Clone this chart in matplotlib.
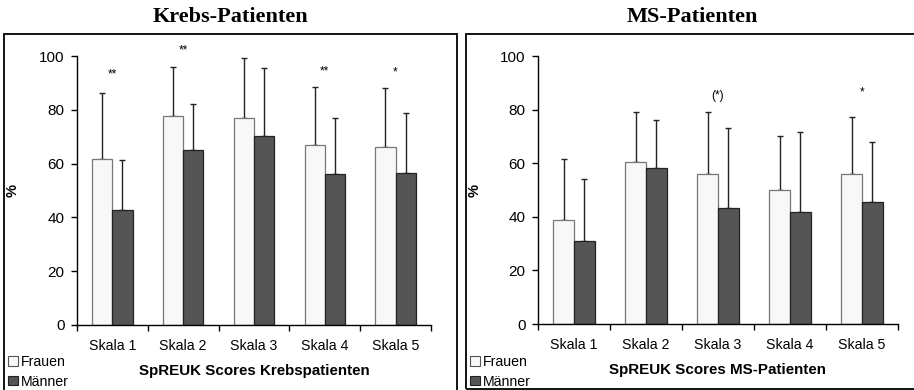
import matplotlib
matplotlib.use("Agg")
import matplotlib.pyplot as plt
import numpy as np
from matplotlib.patches import Rectangle

plt.rcParams["font.family"] = ["Liberation Sans", "DejaVu Sans"]

skalen = ["Skala 1", "Skala 2", "Skala 3", "Skala 4", "Skala 5"]
gruppen = ["Frauen", "Männer"]

# Krebs-Patienten: Mittelwerte und obere Fehlerbalken (Mittelwert + SD)
krebs_frauen = [61.6, 77.6, 77.0, 67.0, 66.2]
krebs_frauen_top = [86.2, 96.0, 99.4, 88.6, 88.0]
krebs_maenner = [42.7, 64.9, 70.3, 56.1, 56.4]
krebs_maenner_top = [61.2, 82.3, 95.7, 77.0, 78.9]
krebs_sig = ["**", "**", "", "**", "*"]
krebs_sig_y = [93.0, 102.0, 0, 94.4, 94.0]

# MS-Patienten
ms_frauen = [38.8, 60.6, 55.8, 49.9, 55.8]
ms_frauen_top = [61.6, 79.0, 79.0, 70.3, 77.3]
ms_maenner = [30.8, 58.2, 43.4, 41.7, 45.4]
ms_maenner_top = [54.1, 76.0, 73.3, 71.8, 68.0]
ms_sig = ["", "", "(*)", "", "*"]
ms_sig_y = [0, 0, 85.0, 0, 86.3]

col_f = "#f8f8f8"
col_m = "#555555"

fig = plt.figure(figsize=(9.14, 3.9), dpi=100)


def draw_panel(ax, fr, fr_top, ma, ma_top, sig, sig_y, xlabel):
    x = np.arange(1, len(skalen) + 1)
    w = 0.285
    fr = np.array(fr)
    ma = np.array(ma)
    ax.bar(x - w / 2, fr, w, color=col_f, edgecolor="#777777", linewidth=0.9, zorder=2)
    ax.bar(x + w / 2, ma, w, color=col_m, edgecolor="#222222", linewidth=0.9, zorder=2)
    ax.errorbar(x - w / 2, fr, yerr=[np.zeros(5), np.array(fr_top) - fr], fmt="none",
                ecolor="#222222", elinewidth=1.0, capsize=2.5, capthick=1.0, zorder=1)
    ax.errorbar(x + w / 2, ma, yerr=[np.zeros(5), np.array(ma_top) - ma], fmt="none",
                ecolor="#222222", elinewidth=1.0, capsize=2.5, capthick=1.0, zorder=1)
    for i, (s, yy) in enumerate(zip(sig, sig_y)):
        if s:
            ax.text(x[i], yy, s, ha="center", va="center", fontsize=8.5)

    ax.set_xlim(0.5, 5.5)
    ax.set_ylim(0, 100)
    ax.set_yticks([0, 20, 40, 60, 80, 100])
    ax.set_xticks(np.arange(0.5, 6, 1))
    ax.set_xticklabels([])
    ax.set_xticks(x, minor=True)
    ax.set_xticklabels(skalen, minor=True)
    ax.tick_params(axis="x", which="major", length=4, width=1)
    ax.tick_params(axis="x", which="minor", length=0, pad=10, labelsize=10.2)
    ax.tick_params(axis="y", length=4, width=1, pad=5, labelsize=11)
    for s in ["top", "right"]:
        ax.spines[s].set_visible(False)
    ax.spines["left"].set_linewidth(1)
    ax.spines["bottom"].set_linewidth(1)
    ax.set_xlabel(xlabel, fontweight="bold", fontsize=10.9, labelpad=8)
    ax.set_ylabel("%", fontweight="bold", fontsize=10.5)


ax1 = fig.add_axes([0.0842, 0.1667, 0.3873, 0.6897])
draw_panel(ax1, krebs_frauen, krebs_frauen_top, krebs_maenner, krebs_maenner_top,
           krebs_sig, krebs_sig_y, "SpREUK Scores Krebspatienten")
ax1.yaxis.set_label_coords(-0.161, 0.5)

ax2 = fig.add_axes([0.5886, 0.1692, 0.3939, 0.6872])
draw_panel(ax2, ms_frauen, ms_frauen_top, ms_maenner, ms_maenner_top,
           ms_sig, ms_sig_y, "SpREUK Scores MS-Patienten")
ax2.yaxis.set_label_coords(-0.156, 0.5)

# Rahmen um beide Diagramme (laufen am Bildrand aus)
fig.patches.append(Rectangle((4 / 914, -5 / 390), 453 / 914, 361 / 390, transform=fig.transFigure,
                             fill=False, edgecolor="black", linewidth=1.3))
fig.patches.append(Rectangle((466.5 / 914, 1.5 / 390), 455 / 914, 354.5 / 390, transform=fig.transFigure,
                             fill=False, edgecolor="black", linewidth=1.3))

fig.text(230 / 914, 1 - 17 / 390, "Krebs-Patienten", ha="center", va="center",
         fontsize=16, fontweight="bold", family="Liberation Serif")
fig.text(692 / 914, 1 - 17 / 390, "MS-Patienten", ha="center", va="center",
         fontsize=16, fontweight="bold", family="Liberation Serif")

handles = [Rectangle((0, 0), 1, 1, facecolor=col_f, edgecolor="#555555", linewidth=0.8),
           Rectangle((0, 0), 1, 1, facecolor=col_m, edgecolor="#222222", linewidth=0.8)]
for x0 in [7 / 914, 469 / 914]:
    fig.legend(handles, gruppen, loc="lower left", bbox_to_anchor=(x0, 0.0),
               frameon=False, fontsize=10.2, handlelength=0.65, handleheight=0.65,
               handletextpad=0.2, labelspacing=0.4, borderpad=0.1, borderaxespad=0.0)

fig.savefig("out.png", dpi=100)
